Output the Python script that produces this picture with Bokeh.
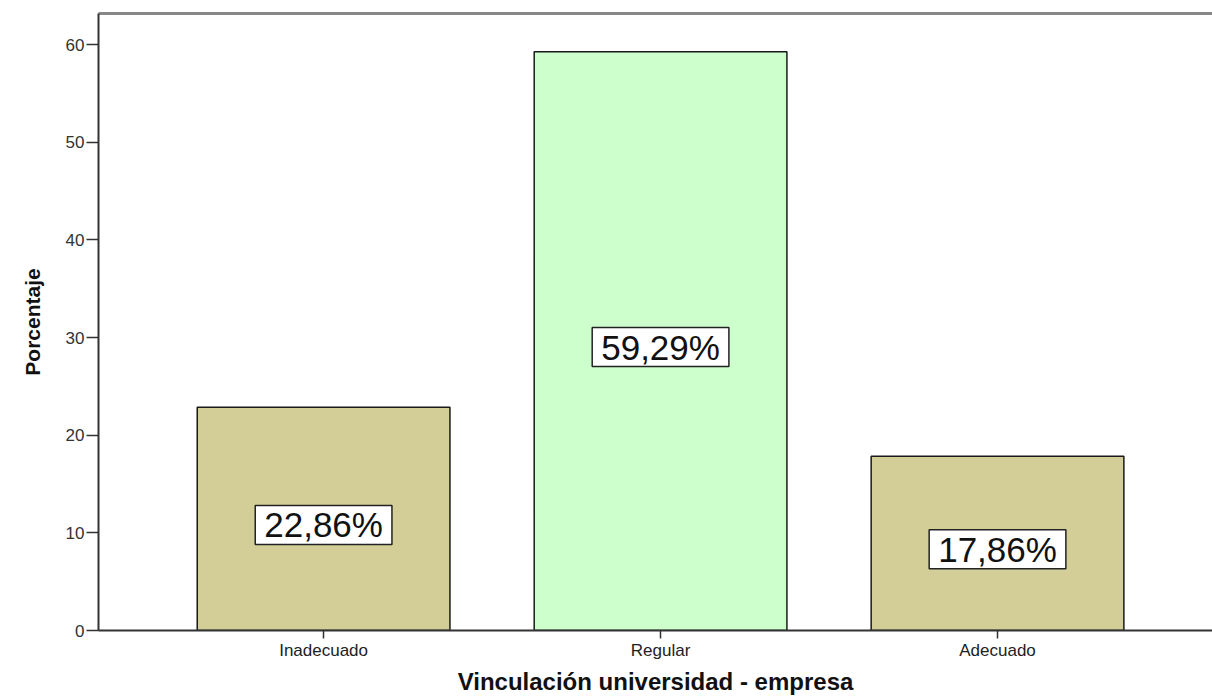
from bokeh.plotting import figure
from bokeh.models import ColumnDataSource, LinearAxis, FixedTicker, Range1d
from bokeh.core.properties import value
from bokeh.embed import file_html
from bokeh.resources import INLINE

categories = ["Inadecuado", "Regular", "Adecuado"]
positions = [1, 2, 3]
values = [22.86, 59.29, 17.86]
colors = ["#D3CE97", "#CCFFCC", "#D3CE97"]
y_ticks = [0, 10, 20, 30, 40, 50, 60]

labels = [f"{v:.2f}%".replace(".", ",") for v in values]
source = ColumnDataSource(dict(x=positions, top=values, color=colors,
                               mid=[v / 2 for v in values], label=labels))

p = figure(width=1212, height=697, output_backend="svg", toolbar_location=None,
           x_range=Range1d(0.332, 3.638), y_range=Range1d(0, 63.2),
           min_border_left=98, min_border_right=0, min_border_top=13, min_border_bottom=64)

p.vbar(x="x", top="top", width=0.75, bottom=0, fill_color="color",
       line_color="#1a1a1a", line_width=1.5, source=source)

p.text(x="x", y="mid", text="label", source=source, y_offset=6,
       text_align="center", text_baseline="middle",
       text_font=value("Liberation Sans"), text_font_size="35px", text_color="#111111",
       background_fill_color="white", border_line_color="#222222",
       border_line_width=1.5, padding=dict(left=9, right=9, top=0, bottom=0))

p.xgrid.visible = False
p.ygrid.visible = False
p.outline_line_color = None
p.background_fill_color = "white"
p.border_fill_color = "white"

# x axis
xa = p.xaxis[0]
xa.ticker = FixedTicker(ticks=positions)
xa.major_label_overrides = {pos: c for pos, c in zip(positions, categories)}
xa.axis_label = "Vinculación universidad - empresa"
xa.axis_label_text_font = "Liberation Sans"
xa.axis_label_text_font_style = "bold"
xa.axis_label_text_font_size = "24px"
xa.axis_label_text_color = "#111111"
xa.axis_label_standoff = 5
xa.major_label_text_font = "Liberation Sans"
xa.major_label_text_font_size = "17px"
xa.major_label_text_color = "#222222"
xa.major_label_standoff = 2
xa.major_tick_in = 0
xa.major_tick_out = 8
xa.minor_tick_line_color = None
xa.axis_line_color = "#333333"
xa.axis_line_width = 2
xa.major_tick_line_color = "#333333"
xa.major_tick_line_width = 1.5

# y axis
ya = p.yaxis[0]
ya.ticker = FixedTicker(ticks=y_ticks)
ya.axis_label = "Porcentaje"
ya.axis_label_text_font = "Liberation Sans"
ya.axis_label_text_font_style = "bold"
ya.axis_label_text_font_size = "21px"
ya.axis_label_text_color = "#111111"
ya.axis_label_standoff = 19
ya.major_label_text_font = "Liberation Sans"
ya.major_label_text_font_size = "17px"
ya.major_label_text_color = "#333333"
ya.major_label_standoff = 2
ya.major_tick_in = 0
ya.major_tick_out = 12
ya.minor_tick_line_color = None
ya.axis_line_color = "#333333"
ya.axis_line_width = 2
ya.major_tick_line_color = "#333333"
ya.major_tick_line_width = 1.5

# top border line
top = LinearAxis(ticker=FixedTicker(ticks=[]), axis_line_color="#888888", axis_line_width=3,
                 major_tick_line_color=None, minor_tick_line_color=None,
                 major_label_text_font_size="0px", major_tick_out=0, minor_tick_out=0,
                 major_label_standoff=0)
p.add_layout(top, "above")

open("out.html", "w").write(file_html(p, INLINE))
